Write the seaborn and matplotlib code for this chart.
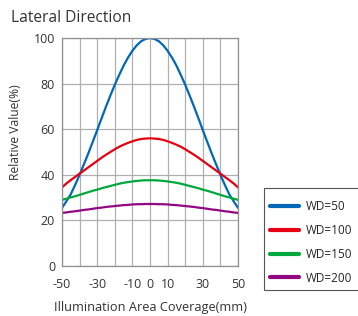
import numpy as np
import pandas as pd
import matplotlib
matplotlib.use("Agg")
import matplotlib.pyplot as plt
from matplotlib.patches import Rectangle
import seaborn as sns

# data (every 2.5 mm)
x_mm = [-50, -47.5, -45, -42.5, -40, -37.5, -35, -32.5, -30, -27.5, -25, -22.5, -20,
        -17.5, -15, -12.5, -10, -7.5, -5, -2.5, 0, 2.5, 5, 7.5, 10, 12.5, 15, 17.5,
        20, 22.5, 25, 27.5, 30, 32.5, 35, 37.5, 40, 42.5, 45, 47.5, 50]
wd50 = [25.5, 28.4, 31.5, 35.6, 40, 44.7, 49.5, 54.5, 59.6, 64.8, 69.9, 74.8, 79.5,
        83.8, 87.9, 91.4, 94.4, 96.8, 98.6, 99.6, 100, 99.6, 98.6, 96.8, 94.4, 91.4, 87.9, 83.8,
        79.5, 74.8, 69.9, 64.8, 59.6, 54.5, 49.5, 44.7, 40, 35.6, 31.5, 28.4, 25.5]
wd100 = [34.5, 36.2, 37.7, 39.1, 40.5, 41.9, 43.3, 44.7, 46.1, 47.5, 48.8, 50.0, 51.2,
         52.3, 53.2, 54.0, 54.7, 55.3, 55.7, 55.9, 56, 55.9, 55.7, 55.3, 54.7, 54.0, 53.2, 52.3,
         51.2, 50.0, 48.8, 47.5, 46.1, 44.7, 43.3, 41.9, 40.5, 39.1, 37.7, 36.2, 34.5]
wd150 = [29, 29.5, 30.1, 30.6, 31.2, 31.8, 32.4, 33.0, 33.5, 34.1, 34.6, 35.1, 35.6,
         36.1, 36.5, 36.8, 37.1, 37.3, 37.5, 37.6, 37.6, 37.6, 37.5, 37.3, 37.1, 36.8, 36.5, 36.1,
         35.6, 35.1, 34.6, 34.1, 33.5, 33.0, 32.4, 31.8, 31.2, 30.6, 30.1, 29.5, 29]
wd200 = [23.3, 23.5, 23.8, 24.0, 24.3, 24.6, 24.8, 25.1, 25.4, 25.6, 25.9, 26.1, 26.3,
         26.5, 26.7, 26.8, 27.0, 27.1, 27.1, 27.2, 27.2, 27.2, 27.1, 27.1, 27.0, 26.8, 26.7, 26.5,
         26.3, 26.1, 25.9, 25.6, 25.4, 25.1, 24.8, 24.6, 24.3, 24.0, 23.8, 23.5, 23.3]
series_names = ["WD=50", "WD=100", "WD=150", "WD=200"]
colors = ["#0068b7", "#e60012", "#00a73c", "#920783"]

x_ticks = [-50, -40, -30, -20, -10, 0, 10, 20, 30, 40, 50]
x_labels = ["-50", "", "-30", "", "-10", "0", "10", "", "30", "", "50"]
y_ticks = [0, 20, 40, 60, 80, 100]

df = pd.DataFrame({
    "x": x_mm * 4,
    "y": wd50 + wd100 + wd150 + wd200,
    "series": sum([[n] * len(x_mm) for n in series_names], []),
})

sns.set_theme(style="white")
plt.rcParams["font.family"] = ["Open Sans", "DejaVu Sans"]

W, H = 358, 316
fig = plt.figure(figsize=(W / 100, H / 100), dpi=100)
ax = fig.add_axes([62 / W, 1 - 266 / H, 176 / W, 228 / H])

sns.lineplot(data=df, x="x", y="y", hue="series", palette=colors,
             linewidth=1.6, ax=ax, legend=False)

ax.set_xlim(-50, 50)
ax.set_ylim(0, 100)
ax.set_xticks(x_ticks)
ax.set_xticklabels(x_labels)
ax.set_yticks(y_ticks)
ax.tick_params(length=0, labelsize=9, colors="#333333")
ax.tick_params(axis="x", pad=9)
ax.tick_params(axis="y", pad=5)
ax.grid(True, color="#b0b0b0", linewidth=0.9)
for s in ax.spines.values():
    s.set_color("#909090")
    s.set_linewidth(0.9)

ax.set_xlabel("Illumination Area Coverage(mm)", fontsize=9.2, color="#333333", labelpad=7)
ax.set_ylabel("Relative Value(%)", fontsize=8.7, color="#333333")
ax.yaxis.set_label_coords(-0.225, 0.585)
fig.text(0.03, 0.942, "Lateral Direction", fontsize=11.2, color="#333333", va="center")

# legend box, running off the right edge like in the reference
fig.patches.append(Rectangle((264 / W, 1 - 290 / H), 0.5, 102 / H, transform=fig.transFigure,
                             facecolor="white", edgecolor="#555555", linewidth=0.8, zorder=1))
handles = [plt.Line2D([], [], color=c, linewidth=3) for c in colors]
leg = fig.legend(handles, series_names, loc="upper left",
                 bbox_to_anchor=(270 / W, 1 - 200 / H), fontsize=8.5, frameon=False,
                 handlelength=2.45, borderpad=0, labelspacing=0.92,
                 handletextpad=0.6, borderaxespad=0)
leg.set_zorder(2)

fig.savefig("out.png", dpi=100)
